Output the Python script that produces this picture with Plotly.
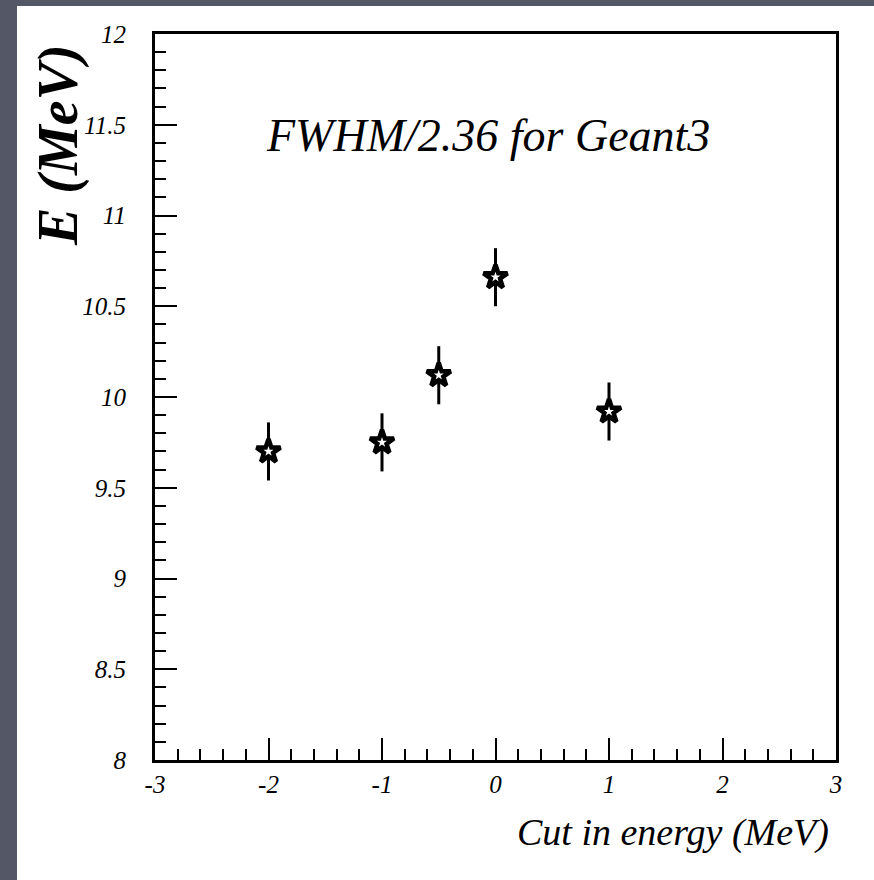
import plotly.graph_objects as go

cut_energy = [-2, -1, -0.5, 0, 1]
fwhm_e = [9.70, 9.75, 10.12, 10.66, 9.92]
fwhm_err = [0.16, 0.16, 0.16, 0.16, 0.16]

x_ticks = [-3, -2, -1, 0, 1, 2, 3]
y_ticks = [8, 8.5, 9, 9.5, 10, 10.5, 11, 11.5, 12]

W, H = 874, 880
L, R, T, B = 155, 38, 34, 120
pw, ph = W - L - R, H - T - B

SERIF = "Liberation Serif"

fig = go.Figure()
fig.add_trace(go.Scatter(
    x=cut_energy, y=fwhm_e, mode="markers",
    marker=dict(symbol="star", size=18, color="white", line=dict(color="black", width=4.5)),
    error_y=dict(type="data", array=fwhm_err, visible=True, color="black", thickness=3, width=0),
    showlegend=False,
))

tickfont = dict(family=SERIF, size=25, color="black", style="italic", weight=400)
fig.update_xaxes(range=[-3, 3], tickvals=x_ticks, ticktext=[str(v) for v in x_ticks],
                 ticks="inside", ticklen=22, tickwidth=2, tickcolor="black",
                 minor=dict(dtick=0.2, ticks="inside", ticklen=11, tickwidth=2, tickcolor="black", showgrid=False),
                 showline=True, linecolor="black", linewidth=3, mirror=True,
                 showgrid=False, zeroline=False, tickfont=tickfont, ticklabelstandoff=0)
fig.update_yaxes(range=[8, 12], tickvals=y_ticks, ticktext=[f"{v:g}" for v in y_ticks],
                 ticks="inside", ticklen=22, tickwidth=2, tickcolor="black",
                 minor=dict(dtick=0.1, ticks="inside", ticklen=11, tickwidth=2, tickcolor="black", showgrid=False),
                 showline=True, linecolor="black", linewidth=3, mirror=True,
                 showgrid=False, zeroline=False, tickfont=tickfont, ticklabelstandoff=21)

fx = lambda px: (px - L) / pw
fy = lambda py: (H - B - py) / ph

fig.add_shape(type="rect", xref="paper", yref="paper", x0=fx(17), x1=fx(880), y0=fy(890), y1=fy(6),
              fillcolor="white", line=dict(width=0), layer="below")

fig.add_annotation(text="FWHM/2.36 for Geant3", xref="paper", yref="paper", x=fx(488), y=fy(135),
                   showarrow=False, xanchor="center", yanchor="middle",
                   font=dict(family=SERIF, size=46, color="black", style="italic", weight=400))
fig.add_annotation(text="Cut in energy (MeV)", xref="paper", yref="paper", x=fx(831), y=fy(832),
                   showarrow=False, xanchor="right", yanchor="middle",
                   font=dict(family=SERIF, size=38, color="black", style="italic", weight=400))
fig.add_annotation(text="E (MeV)", xref="paper", yref="paper", x=fx(58), y=fy(145),
                   showarrow=False, textangle=-90, xanchor="center", yanchor="middle",
                   font=dict(family=SERIF, size=56, color="black", style="italic", weight=700))

fig.update_layout(width=W, height=H, margin=dict(l=L, r=R, t=T, b=B),
                  paper_bgcolor="#545766", plot_bgcolor="white")
fig.write_html("out.html")
